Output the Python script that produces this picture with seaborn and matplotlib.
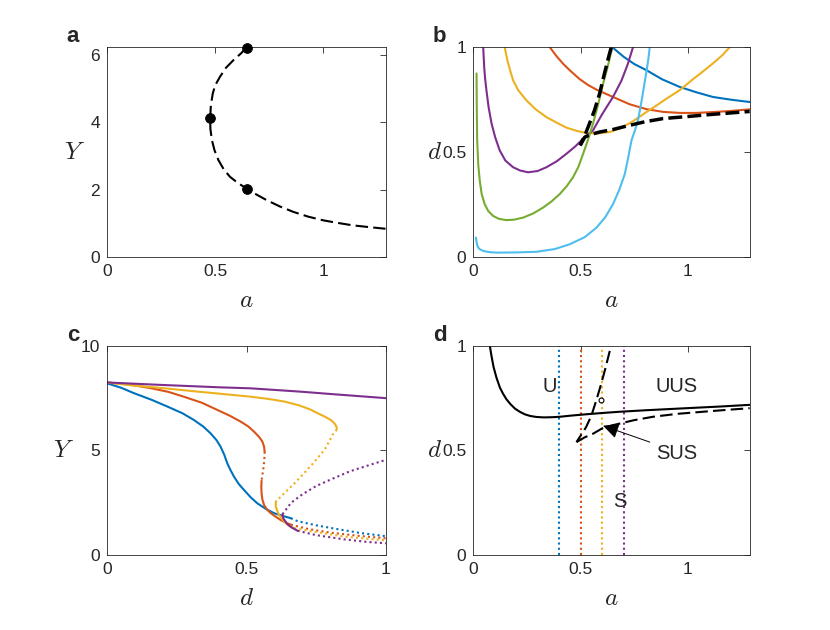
import numpy as np
import pandas as pd
import seaborn as sns
import matplotlib.pyplot as plt

# MATLAB default line colours
blue, red, yellow, purple, green, cyan = ('#0072BD', '#D95319', '#EDB120',
                                          '#7E2F8E', '#77AC30', '#4DBEEE')

# ---- panel a: Y versus a (fold curve) ----
a_fold_x = [0.646, 0.62, 0.585, 0.55, 0.523, 0.50, 0.489, 0.48, 0.477, 0.478, 0.485,
            0.497, 0.515, 0.54, 0.569, 0.605, 0.646, 0.69, 0.738, 0.80, 0.862, 0.93,
            1.0, 1.07, 1.138, 1.21, 1.288]
a_fold_y = [6.23, 6.05, 5.85, 5.62, 5.36, 5.1, 4.86, 4.5, 4.12, 3.8, 3.47, 3.17,
            2.88, 2.6, 2.38, 2.2, 2.03, 1.86, 1.69, 1.5, 1.34, 1.2, 1.09, 1.01,
            0.94, 0.89, 0.84]
a_pts_x = [0.646, 0.477, 0.646]
a_pts_y = [6.2, 4.12, 2.03]

# ---- panel b: d versus a ----
b_blue_x = [0.648, 0.70, 0.75, 0.806, 0.88, 0.961, 1.04, 1.116, 1.2, 1.287]
b_blue_y = [1.0, 0.955, 0.92, 0.891, 0.847, 0.811, 0.785, 0.763, 0.75, 0.739]
b_red_x = [0.357, 0.39, 0.42, 0.45, 0.496, 0.535, 0.574, 0.651, 0.729, 0.806, 0.884,
           0.961, 1.039, 1.116, 1.194, 1.287]
b_red_y = [1.0, 0.955, 0.92, 0.89, 0.848, 0.82, 0.798, 0.763, 0.728, 0.705, 0.692,
           0.687, 0.687, 0.691, 0.696, 0.704]
b_yel_x = [0.147, 0.16, 0.175, 0.186, 0.21, 0.248, 0.29, 0.341, 0.39, 0.434, 0.48,
           0.527, 0.58, 0.636, 0.68, 0.729, 0.77, 0.806, 0.85, 0.9, 0.961, 1.02,
           1.07, 1.116, 1.16, 1.194]
b_yel_y = [1.0, 0.935, 0.88, 0.843, 0.795, 0.747, 0.705, 0.667, 0.64, 0.617, 0.602,
           0.591, 0.589, 0.596, 0.612, 0.638, 0.665, 0.691, 0.72, 0.755, 0.795, 0.845,
           0.885, 0.923, 0.962, 1.0]
b_pur_x = [0.047, 0.052, 0.056, 0.062, 0.072, 0.086, 0.103, 0.124, 0.15, 0.186, 0.22,
           0.256, 0.30, 0.341, 0.39, 0.434, 0.475, 0.512, 0.558, 0.60, 0.651, 0.69,
           0.72, 0.744]
b_pur_y = [1.0, 0.9, 0.85, 0.795, 0.715, 0.636, 0.57, 0.508, 0.46, 0.428, 0.412,
           0.404, 0.41, 0.428, 0.457, 0.492, 0.527, 0.564, 0.604, 0.68, 0.763, 0.84,
           0.92, 1.0]
b_grn_x = [0.016, 0.017, 0.019, 0.024, 0.031, 0.04, 0.054, 0.07, 0.093, 0.12, 0.155,
           0.19, 0.233, 0.28, 0.326, 0.365, 0.403, 0.435, 0.465, 0.49, 0.512, 0.535,
           0.558, 0.58, 0.605, 0.627, 0.648]
b_grn_y = [0.875, 0.72, 0.556, 0.44, 0.364, 0.3, 0.252, 0.22, 0.196, 0.182, 0.176,
           0.178, 0.188, 0.208, 0.236, 0.265, 0.3, 0.337, 0.38, 0.43, 0.492, 0.56,
           0.636, 0.72, 0.827, 0.91, 1.0]
b_cyn_x = [0.013, 0.018, 0.024, 0.031, 0.05, 0.08, 0.109, 0.2, 0.295, 0.38, 0.45,
           0.52, 0.574, 0.615, 0.651, 0.68, 0.706, 0.722, 0.737, 0.752, 0.767, 0.78,
           0.793, 0.806, 0.815, 0.822]
b_cyn_y = [0.093, 0.06, 0.045, 0.037, 0.028, 0.023, 0.021, 0.022, 0.025, 0.038, 0.061,
           0.095, 0.14, 0.19, 0.252, 0.32, 0.396, 0.475, 0.556, 0.6, 0.652, 0.72,
           0.8, 0.88, 0.94, 1.0]
b_dash_up_x = [0.643, 0.633, 0.61, 0.589, 0.565, 0.543, 0.52, 0.498]
b_dash_up_y = [1.0, 0.963, 0.87, 0.78, 0.7, 0.64, 0.58, 0.532]
b_dash_lo_x = [0.498, 0.52, 0.55, 0.589, 0.651, 0.729, 0.8, 0.884, 1.0, 1.1, 1.2, 1.287]
b_dash_lo_y = [0.532, 0.572, 0.585, 0.596, 0.608, 0.628, 0.645, 0.66, 0.67, 0.679,
               0.687, 0.694]

# ---- panel c: Y versus d (solid = stable, dotted = unstable) ----
c_curves = {
    'blue': [
        ('-', [0, 0.05, 0.096, 0.16, 0.216, 0.27, 0.311, 0.345, 0.371, 0.392, 0.407,
               0.42, 0.431, 0.443, 0.455, 0.472, 0.491, 0.515, 0.539, 0.57, 0.599,
               0.63, 0.659],
              [8.21, 8.0, 7.74, 7.42, 7.1, 6.78, 6.46, 6.14, 5.82, 5.5, 5.18,
               4.8, 4.39, 4.05, 3.75, 3.4, 3.11, 2.76, 2.47, 2.2, 2.0, 1.87, 1.76]),
        (':', [0.659, 0.683, 0.75, 0.83, 0.91, 1.0],
              [1.76, 1.62, 1.42, 1.23, 1.05, 0.9]),
    ],
    'red': [
        ('-', [0, 0.08, 0.156, 0.22, 0.275, 0.34, 0.395, 0.44, 0.479, 0.507, 0.527,
               0.545, 0.557, 0.563, 0.565],
              [8.25, 8.15, 7.98, 7.8, 7.57, 7.28, 6.94, 6.66, 6.38, 6.14, 5.9,
               5.65, 5.42, 5.18, 4.94]),
        (':', [0.565, 0.564, 0.562, 0.559, 0.556, 0.554],
              [4.94, 4.6, 4.3, 4.0, 3.75, 3.55]),
        ('-', [0.554, 0.553, 0.554, 0.557, 0.563, 0.573, 0.587, 0.605, 0.623, 0.641,
               0.659],
              [3.55, 3.25, 2.95, 2.65, 2.39, 2.18, 2.0, 1.83, 1.67, 1.55, 1.45]),
        (':', [0.659, 0.72, 0.8, 0.9, 1.0],
              [1.45, 1.25, 1.07, 0.92, 0.8]),
    ],
    'yellow': [
        ('-', [0, 0.096, 0.2, 0.335, 0.43, 0.515, 0.58, 0.635, 0.69, 0.73, 0.755,
               0.78, 0.802, 0.815, 0.822, 0.824],
              [8.25, 8.1, 7.98, 7.8, 7.68, 7.57, 7.46, 7.34, 7.15, 6.95, 6.78,
               6.62, 6.46, 6.3, 6.15, 6.03]),
        (':', [0.824, 0.818, 0.808, 0.796, 0.781, 0.76, 0.74, 0.706, 0.67, 0.635,
               0.605],
              [6.0, 5.9, 5.74, 5.42, 5.06, 4.72, 4.4, 3.91, 3.4, 2.95, 2.55]),
        ('-', [0.605, 0.605, 0.615, 0.635, 0.65, 0.671],
              [2.55, 2.31, 1.95, 1.6, 1.42, 1.28]),
        (':', [0.671, 0.75, 0.85, 0.93, 1.0],
              [1.28, 1.1, 0.88, 0.78, 0.7]),
    ],
    'purple': [
        ('-', [0, 0.2, 0.4, 0.515, 0.695, 0.8, 0.9, 1.0],
              [8.25, 8.13, 8.02, 7.97, 7.81, 7.7, 7.6, 7.5]),
        (':', [0.629, 0.66, 0.70, 0.75, 0.80, 0.87, 0.94, 1.0],
              [1.95, 2.5, 2.9, 3.3, 3.6, 4.0, 4.3, 4.55]),
        ('-', [0.629, 0.632, 0.645, 0.66, 0.683],
              [1.95, 1.75, 1.5, 1.33, 1.16]),
        (':', [0.683, 0.75, 0.85, 0.93, 1.0],
              [1.16, 0.95, 0.75, 0.63, 0.56]),
    ],
}
c_colors = {'blue': blue, 'red': red, 'yellow': yellow, 'purple': purple}

# ---- panel d: d versus a (regions) ----
d_solid_x = [0.078, 0.085, 0.095, 0.109, 0.125, 0.14, 0.155, 0.175, 0.195, 0.217, 0.24,
             0.265, 0.295, 0.33, 0.37, 0.403, 0.46, 0.527, 0.60, 0.682, 0.8, 0.992,
             1.15, 1.287]
d_solid_y = [1.0, 0.955, 0.9, 0.847, 0.8, 0.77, 0.745, 0.72, 0.7, 0.685, 0.673,
             0.665, 0.66, 0.658, 0.659, 0.661, 0.667, 0.673, 0.679, 0.685, 0.692,
             0.702, 0.71, 0.718]
d_dash_up_x = [0.636, 0.615, 0.595, 0.574, 0.55, 0.525, 0.50, 0.481]
d_dash_up_y = [0.976, 0.89, 0.815, 0.742, 0.665, 0.61, 0.57, 0.54]
d_dash_lo_x = [0.481, 0.52, 0.558, 0.60, 0.651, 0.75, 0.837, 0.95, 1.07, 1.18, 1.287]
d_dash_lo_y = [0.54, 0.563, 0.58, 0.605, 0.621, 0.645, 0.661, 0.675, 0.685, 0.694, 0.702]
d_vlines = [0.4, 0.5, 0.6, 0.7]
d_vcolors = [blue, red, yellow, purple]
d_circle = (0.597, 0.742)
d_labels = [('U', 0.357, 0.806), ('UUS', 0.946, 0.806), ('SUS', 0.946, 0.484),
            ('S', 0.682, 0.258)]

sns.set_style('white')
plt.rcParams['font.family'] = ['Liberation Sans', 'DejaVu Sans']
plt.rcParams['mathtext.fontset'] = 'cm'

fig = plt.figure(figsize=(8.3, 6.3), dpi=100)
ax_a = fig.add_axes([0.129, 0.592, 0.336, 0.333])
ax_b = fig.add_axes([0.570, 0.592, 0.334, 0.333])
ax_c = fig.add_axes([0.129, 0.119, 0.336, 0.332])
ax_d = fig.add_axes([0.570, 0.119, 0.334, 0.332])

dotted = (0, (1, 1.5))
dashed = (0, (6, 2.5))


def curve(ax, x, y, color='k', ls='-', lw=1.5):
    sns.lineplot(x=x, y=y, ax=ax, color=color, linestyle=ls, linewidth=lw,
                 sort=False, estimator=None)
    ax.lines[-1].set_linestyle(ls)


def style(ax, letter, xlabel, ylabel, ylx):
    for s in ax.spines.values():
        s.set_color('#262626')
        s.set_linewidth(0.6)
    ax.tick_params(direction='in', top=True, right=True, length=4, width=0.6,
                   colors='#262626', labelsize=12.5, pad=5)
    ax.set_xlabel(xlabel, fontsize=18, va='center')
    ax.set_ylabel(ylabel, fontsize=18, rotation=0, ha='center', va='center')
    ax.xaxis.set_label_coords(0.5, -0.205)
    ax.yaxis.set_label_coords(ylx, 0.5)
    ax.text(-0.145, 1.05, letter, transform=ax.transAxes, fontsize=16,
            fontweight='bold', ha='left', va='center')


# panel a
curve(ax_a, a_fold_x, a_fold_y, ls=dashed)
sns.scatterplot(x=a_pts_x, y=a_pts_y, ax=ax_a, color='k', s=50, zorder=5,
                edgecolor='k', clip_on=False)
ax_a.set_xlim(0, 1.29)
ax_a.set_ylim(0, 6.23)
ax_a.set_xticks([0, 0.5, 1])
ax_a.set_xticklabels(['0', '0.5', '1'])
ax_a.set_yticks([0, 2, 4, 6])
style(ax_a, 'a', '$a$', '$Y$', -0.115)

# panel b
for xs, ys, col in [(b_blue_x, b_blue_y, blue), (b_red_x, b_red_y, red),
                    (b_yel_x, b_yel_y, yellow), (b_pur_x, b_pur_y, purple),
                    (b_grn_x, b_grn_y, green), (b_cyn_x, b_cyn_y, cyan)]:
    curve(ax_b, xs, ys, color=col)
curve(ax_b, b_dash_up_x, b_dash_up_y, ls=(0, (4, 1.5)), lw=2.5)
curve(ax_b, b_dash_lo_x, b_dash_lo_y, ls=(0, (4, 1.5)), lw=2.5)
ax_b.set_xlim(0, 1.29)
ax_b.set_ylim(0, 1)
ax_b.set_xticks([0, 0.5, 1])
ax_b.set_xticklabels(['0', '0.5', '1'])
ax_b.set_yticks([0, 0.5, 1])
ax_b.set_yticklabels(['0', '0.5', '1'])
style(ax_b, 'b', '$a$', '$d$', -0.14)

# panel c
for name, parts in c_curves.items():
    for ls, xs, ys in parts:
        curve(ax_c, xs, ys, color=c_colors[name], ls=dotted if ls == ':' else '-')
ax_c.set_xlim(0, 1)
ax_c.set_ylim(0, 10)
ax_c.set_xticks([0, 0.5, 1])
ax_c.set_xticklabels(['0', '0.5', '1'])
ax_c.set_yticks([0, 5, 10])
style(ax_c, 'c', '$d$', '$Y$', -0.155)

# panel d
for xv, col in zip(d_vlines, d_vcolors):
    curve(ax_d, [xv, xv], [0, 1], color=col, ls=dotted)
curve(ax_d, d_solid_x, d_solid_y)
curve(ax_d, d_dash_up_x, d_dash_up_y, ls=dashed)
curve(ax_d, d_dash_lo_x, d_dash_lo_y, ls=dashed)
ax_d.plot(*d_circle, marker='o', ms=3.5, mfc='white', mec='k', mew=0.8)
for txt, x, y in d_labels:
    ax_d.text(x, y, txt, fontsize=14.5, ha='center', va='center')
ax_d.annotate('', xy=(0.605, 0.618), xytext=(0.822, 0.54),
              arrowprops=dict(arrowstyle='-|>', color='k', lw=0.7,
                              mutation_scale=24, shrinkA=0, shrinkB=0))
ax_d.set_xlim(0, 1.29)
ax_d.set_ylim(0, 1)
ax_d.set_xticks([0, 0.5, 1])
ax_d.set_xticklabels(['0', '0.5', '1'])
ax_d.set_yticks([0, 0.5, 1])
ax_d.set_yticklabels(['0', '0.5', '1'])
style(ax_d, 'd', '$a$', '$d$', -0.14)

fig.savefig('out.png', dpi=100)
